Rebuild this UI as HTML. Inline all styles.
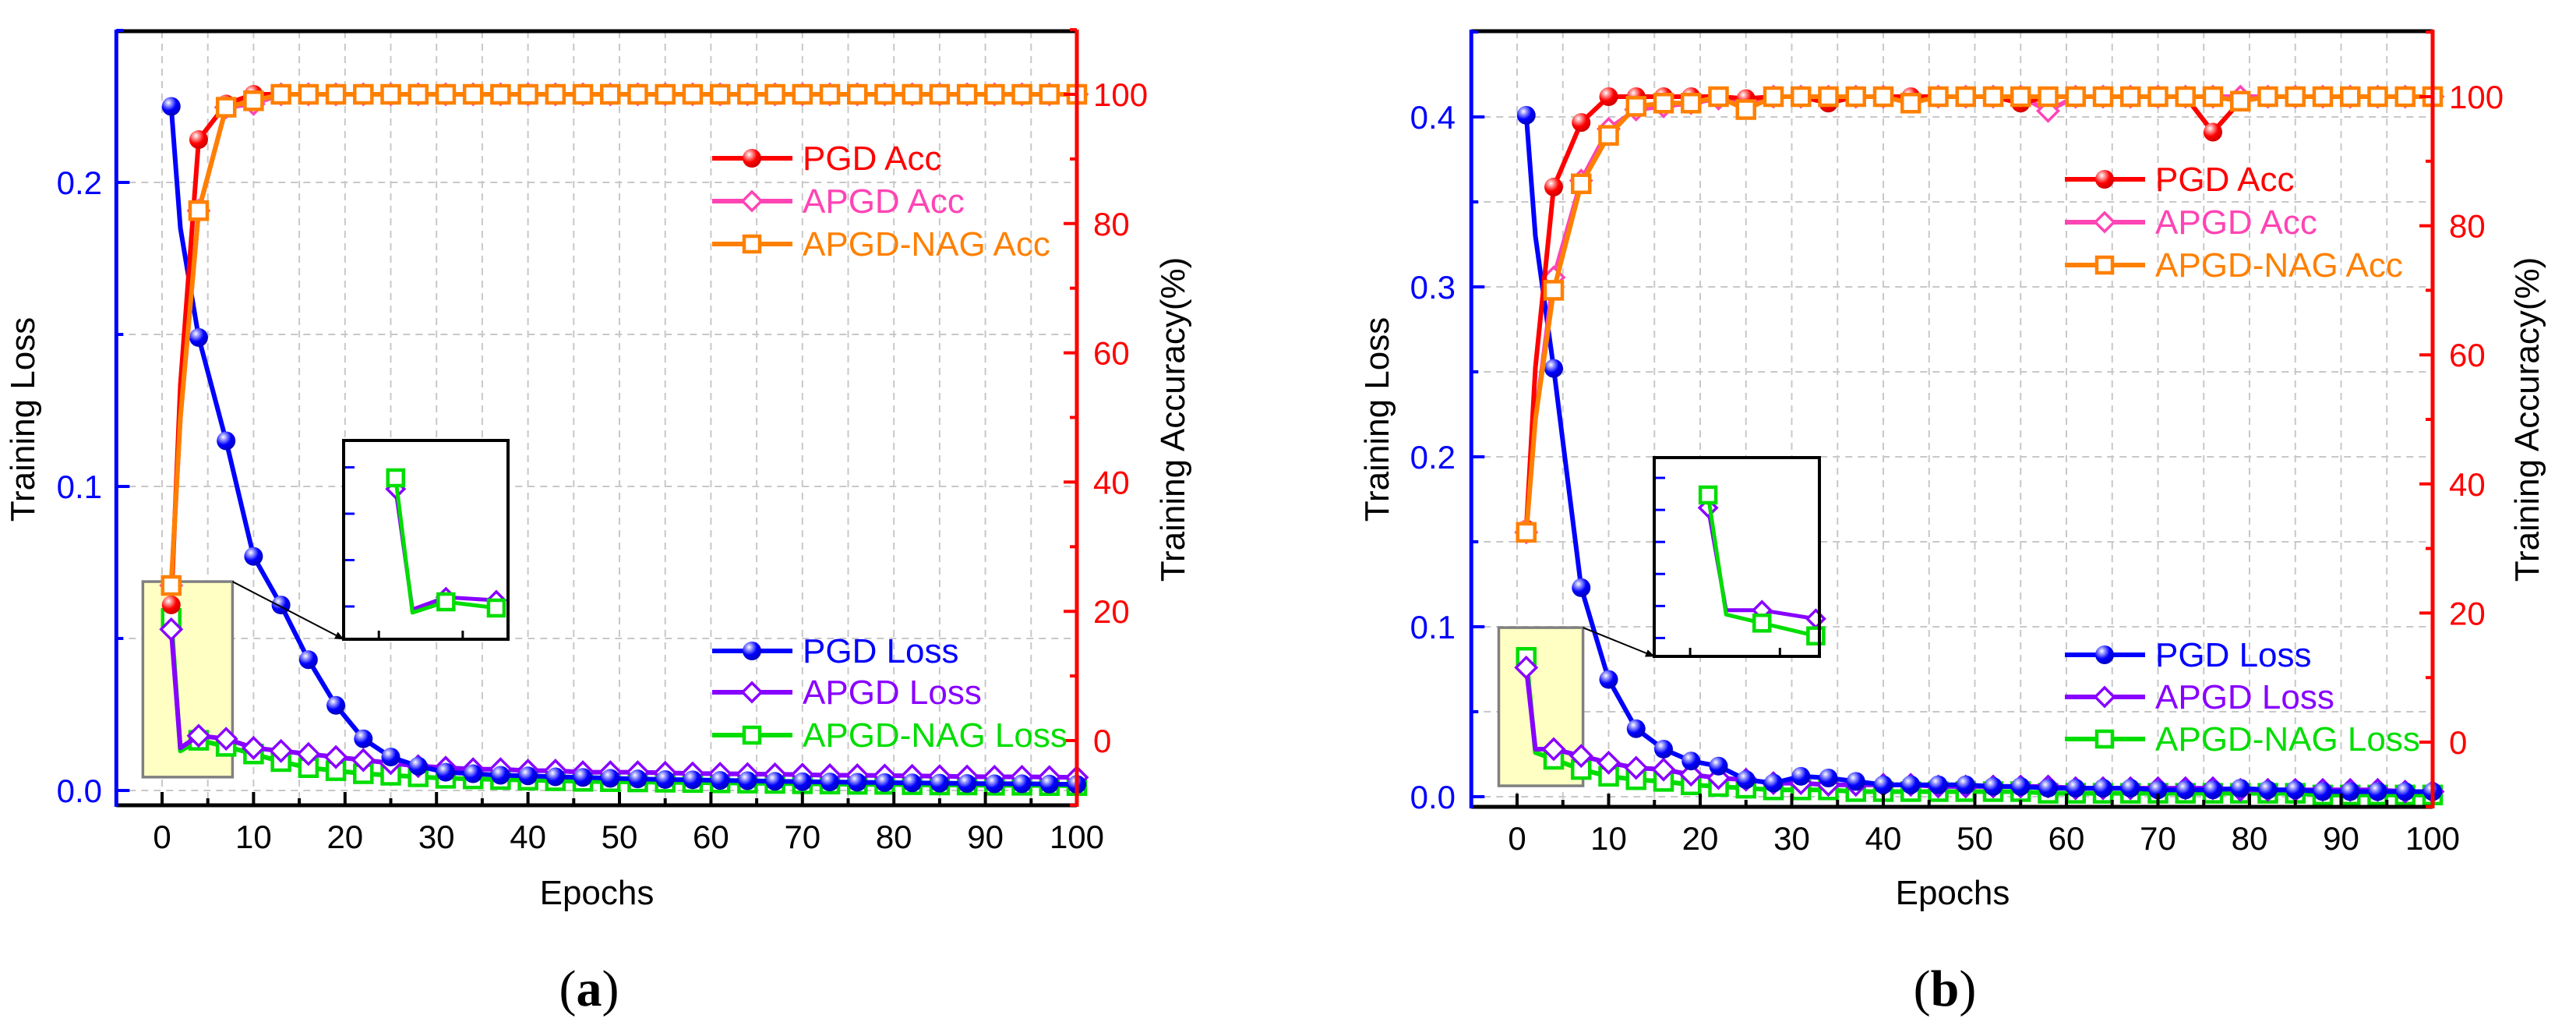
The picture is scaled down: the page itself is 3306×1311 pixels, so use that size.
<!DOCTYPE html>
<html><head><meta charset="utf-8"><title>Training loss and accuracy</title>
<style>
html,body{margin:0;padding:0;background:#fff;}
svg{display:block;font-family:"Liberation Sans",Arial,sans-serif;}
</style></head>
<body>
<svg id="fig" width="3306" height="1311" viewBox="0 0 3306 1311" xmlns="http://www.w3.org/2000/svg">
<defs>
<radialGradient id="gBlue" cx="35%" cy="30%" r="70%"><stop offset="0" stop-color="#ffffff"/><stop offset="0.25" stop-color="#9090ff"/><stop offset="0.6" stop-color="#0000ff"/><stop offset="1" stop-color="#0000c0"/></radialGradient>
<radialGradient id="gRed" cx="35%" cy="30%" r="70%"><stop offset="0" stop-color="#ffffff"/><stop offset="0.25" stop-color="#ff9090"/><stop offset="0.6" stop-color="#ff0000"/><stop offset="1" stop-color="#d00000"/></radialGradient>
<marker id="arrowHead" markerWidth="12" markerHeight="10" refX="11" refY="5" orient="auto" markerUnits="userSpaceOnUse"><path d="M0,0 L12,5 L0,10 z" fill="#000"/></marker>
</defs>
<g id="panelA"></g>
<g id="panelB"></g>
</svg>
<script>
// ---------- data (panel a) ----------
const epochs = [1,2,4,7,10,13,16,19,22,25,28,31,34,37,40,43,46,49,52,55,58,61,64,67,70,73,76,79,82,85,88,91,94,97,100];
const xTicks = [0,10,20,30,40,50,60,70,80,90,100];
const accTicks = [0,20,40,60,80,100];
const lossTicksA = [0.0,0.1,0.2];
const lossTicksB = [0.0,0.1,0.2,0.3,0.4];

const pgdLossA  = [0.225,0.185,0.149,0.115,0.077,0.061,0.043,0.028,0.017,0.011,0.008,0.006,0.0055,0.005,0.0048,0.0045,0.0043,0.004,0.0038,0.0036,0.0035,0.0033,0.0032,0.003,0.0029,0.0028,0.0027,0.0026,0.0025,0.0024,0.0023,0.0022,0.0022,0.0021,0.002];
const apgdLossA = [0.053,0.014,0.018,0.017,0.014,0.013,0.012,0.011,0.010,0.009,0.008,0.0075,0.007,0.007,0.0065,0.0065,0.006,0.006,0.006,0.0058,0.0056,0.0055,0.0054,0.0053,0.0052,0.005,0.005,0.0049,0.0048,0.0047,0.0046,0.0045,0.0045,0.0044,0.0043];
const nagLossA  = [0.0566,0.013,0.0165,0.0145,0.012,0.0095,0.0075,0.0065,0.0055,0.005,0.0045,0.004,0.0038,0.0036,0.0034,0.0032,0.003,0.0029,0.0028,0.0027,0.0026,0.0025,0.0024,0.0023,0.0022,0.0021,0.002,0.002,0.0019,0.0018,0.0018,0.0017,0.0017,0.0016,0.0016];
const pgdAccA   = [21,55,93,98.5,100,100,100,100,100,100,100,100,100,100,100,100,100,100,100,100,100,100,100,100,100,100,100,100,100,100,100,100,100,100,100];
const apgdAccA  = [24,50,82,98,98.5,100,100,100,100,100,100,100,100,100,100,100,100,100,100,100,100,100,100,100,100,100,100,100,100,100,100,100,100,100,100];
const nagAccA   = [24,50,82,98,99,100,100,100,100,100,100,100,100,100,100,100,100,100,100,100,100,100,100,100,100,100,100,100,100,100,100,100,100,100,100];

// ---------- data (panel b) ----------
const pgdLossB  = [0.401,0.33,0.252,0.123,0.069,0.040,0.028,0.021,0.018,0.010,0.008,0.012,0.011,0.009,0.007,0.007,0.007,0.007,0.006,0.006,0.005,0.005,0.005,0.005,0.004,0.004,0.004,0.005,0.004,0.004,0.003,0.003,0.003,0.003,0.003];
const apgdLossB = [0.076,0.028,0.028,0.024,0.020,0.017,0.016,0.013,0.011,0.010,0.008,0.008,0.007,0.007,0.007,0.007,0.006,0.006,0.006,0.006,0.006,0.005,0.005,0.005,0.005,0.005,0.005,0.004,0.004,0.004,0.004,0.004,0.004,0.003,0.003];
const nagLossB  = [0.082,0.026,0.022,0.016,0.012,0.010,0.009,0.007,0.006,0.005,0.004,0.004,0.004,0.003,0.003,0.003,0.003,0.003,0.003,0.003,0.002,0.002,0.002,0.002,0.002,0.002,0.002,0.002,0.002,0.002,0.001,0.001,0.001,0.001,0.001];
const pgdAccB   = [33,58,86,96,100,100,100,100,100,99.7,100,100,99,100,100,100,100,100,100,99,100,100,100,100,100,100,94.5,99.3,100,100,100,100,100,100,100];
const apgdAccB  = [32.5,50,72,87,95,98,98.5,99,99.7,99,100,100,100,100,100,99.5,100,100,100,100,97.8,100,100,100,100,100,100,100,100,100,100,100,100,100,100];
const nagAccB   = [32.5,50,70,86.5,94,98.5,99,99,100,98,100,100,100,100,100,99,100,100,100,100,100,100,100,100,100,100,100,99.3,100,100,100,100,100,100,100];

const NS = "http://www.w3.org/2000/svg";
function mk(parent, tag, attrs){
  const e = document.createElementNS(NS, tag);
  for (const k in attrs) e.setAttribute(k, attrs[k]);
  parent.appendChild(e);
  return e;
}
function linScale(d0,d1,r0,r1){ return v => r0 + (v-d0)/(d1-d0)*(r1-r0); }

function marker(g, type, cx, cy, color, size){
  let el;
  if (type === 'sphere'){
    el = mk(g,'circle',{cx:cx,cy:cy,r:size,fill:color==='blue'?'url(#gBlue)':'url(#gRed)'});
  } else if (type === 'diamond'){
    const s=size;
    el = mk(g,'polygon',{points:`${cx},${cy-s} ${cx+s},${cy} ${cx},${cy+s} ${cx-s},${cy}`,fill:'#fff',stroke:color,'stroke-width':3.5});
  } else {
    const s=size;
    el = mk(g,'rect',{x:cx-s,y:cy-s,width:2*s,height:2*s,fill:'#fff',stroke:color,'stroke-width':4.5});
  }
  return el;
}

function drawPanel(root, cfg){
  const X = linScale(0,100,cfg.x0,cfg.x100);
  const L = linScale(0,1,cfg.ly0,cfg.ly0-cfg.lossPx);
  const A = linScale(0,100,cfg.ay0,cfg.ay100);
  const left = X(-5), right = X(100), top = 40, bottom = cfg.bottom;

  // grid
  const grid = mk(root,'g',{});
  
  
  for (let e=0;e<=95;e+=5){
    mk(grid,'line',{x1:X(e),y1:top,x2:X(e),y2:bottom,stroke:'#c8c8c8','stroke-width':2,'stroke-dasharray':'9,7'});
  }
  for (let v=0; v<=cfg.lossMax+1e-9; v+=0.05){
    mk(grid,'line',{x1:left,y1:L(v),x2:right,y2:L(v),stroke:'#c8c8c8','stroke-width':2,'stroke-dasharray':'9,7'});
  }

  // yellow zoom box
  const zb = cfg.zoomBox;
  const box = mk(root,'rect',{x:X(zb.e0),y:L(zb.l1),width:X(zb.e1)-X(zb.e0),height:L(zb.l0)-L(zb.l1),fill:'#ffffc4',stroke:'#808080','stroke-width':3.5});
  
  

  // series
  function series(name, vals, scale, color, mtype, msize, width){
    const g = mk(root,'g',{});
    
    
    const pts = epochs.map((e,i)=>`${X(e).toFixed(1)},${scale(vals[i]).toFixed(1)}`).join(' ');
    mk(g,'polyline',{points:pts,fill:'none',stroke:color,'stroke-width':width,'stroke-linejoin':'round'});
    epochs.forEach((e,i)=>{
      if ((e-1)%3===0){
        const m = marker(g, mtype, X(e), scale(vals[i]), mtype==='sphere'?(color==='#0000ff'?'blue':'red'):color, msize);
        
        
      }
    });
  }
  series('apgd-nag-loss-line', cfg.nagLoss, L, '#00dd00', 'square', 11, 6);
  series('apgd-loss-line', cfg.apgdLoss, L, '#8800ff', 'diamond', 13, 6);
  series('pgd-loss-line', cfg.pgdLoss, L, '#0000ff', 'sphere', 12, 6);
  series('apgd-acc-line', cfg.apgdAcc, A, '#ff44b4', 'diamond', 13, 6);
  series('pgd-acc-line', cfg.pgdAcc, A, '#ff0000', 'sphere', 12, 6);
  series('apgd-nag-acc-line', cfg.nagAcc, A, '#ff8000', 'square', 11, 6);

  // axes
  const ax = mk(root,'g',{});
  
  
  mk(ax,'line',{x1:left,y1:top,x2:right,y2:top,stroke:'#000','stroke-width':5});
  mk(ax,'line',{x1:left,y1:bottom,x2:right,y2:bottom,stroke:'#000','stroke-width':5});
  mk(ax,'line',{x1:left,y1:top-2,x2:left,y2:bottom+2,stroke:'#0000ff','stroke-width':5});
  mk(ax,'line',{x1:right,y1:top-2,x2:right,y2:bottom+2,stroke:'#ff0000','stroke-width':5});

  // x ticks
  for (let e=0;e<=95;e+=5){
    mk(ax,'line',{x1:X(e),y1:bottom,x2:X(e),y2:bottom-(e%10===0?17:9),stroke:'#000','stroke-width':4});
  }
  xTicks.forEach(t=>{
    const tx = mk(ax,'text',{x:X(t),y:bottom+55,'text-anchor':'middle','font-size':42,fill:'#000'});
    tx.textContent = t;
    
    
  });
  // left ticks
  for (let v=0; v<=cfg.lossMax+1e-9; v+=0.05){
    const major = Math.abs(v*10-Math.round(v*10))<1e-6;
    mk(ax,'line',{x1:left,y1:L(v),x2:left+(major?17:9),y2:L(v),stroke:'#0000ff','stroke-width':4});
  }
  cfg.lossTicks.forEach(t=>{
    const tx = mk(ax,'text',{x:cfg.leftLabelX,y:L(t)+15,'text-anchor':'end','font-size':42,fill:'#0000ff'});
    tx.textContent = t.toFixed(1);
    
    
  });
  // right ticks
  for (let v=-10; v<=110; v+=10){
    mk(ax,'line',{x1:right,y1:A(v),x2:right-(v%20===0?17:9),y2:A(v),stroke:'#ff0000','stroke-width':4});
  }
  accTicks.forEach(t=>{
    const tx = mk(ax,'text',{x:right+21,y:A(t)+15,'text-anchor':'start','font-size':42,fill:'#ff0000'});
    tx.textContent = t;
    
    
  });

  // titles
  const lt = mk(root,'text',{x:0,y:0,transform:`translate(${cfg.leftTitleX},538) rotate(-90)`,'text-anchor':'middle','font-size':44,fill:'#000'});
  lt.textContent = 'Training Loss';
  
  
  const rt = mk(root,'text',{x:0,y:0,transform:`translate(${cfg.rightTitleX},538) rotate(-90)`,'text-anchor':'middle','font-size':44,fill:'#000'});
  rt.textContent = 'Training Accuracy(%)';
  
  
  const xt = mk(root,'text',{x:cfg.epochsX,y:1160,'text-anchor':'middle','font-size':44,fill:'#000'});
  xt.textContent = 'Epochs';
  
  
  const cap = mk(root,'text',{x:cfg.epochsX-10,y:1290,'text-anchor':'middle','font-size':66,fill:'#000','font-family':'"Liberation Serif",serif'});
  cap.innerHTML = '(<tspan font-weight="bold">'+cfg.caption+'</tspan>)';
  
  

  // legend
  const lg = mk(root,'g',{});
  
  
  const entries = [
    ['PGD Acc','#ff0000','sphere',cfg.legY[0]],
    ['APGD Acc','#ff44b4','diamond',cfg.legY[1]],
    ['APGD-NAG Acc','#ff8000','square',cfg.legY[2]],
    ['PGD Loss','#0000ff','sphere',cfg.legY[3]],
    ['APGD Loss','#8800ff','diamond',cfg.legY[4]],
    ['APGD-NAG Loss','#00dd00','square',cfg.legY[5]]
  ];
  entries.forEach(en=>{
    const eg = mk(lg,'g',{});
    
    
    mk(eg,'line',{x1:cfg.legX,y1:en[3],x2:cfg.legX+103,y2:en[3],stroke:en[1],'stroke-width':6});
    marker(eg,en[2],cfg.legX+51,en[3],en[2]==='sphere'?(en[1]==='#0000ff'?'blue':'red'):en[1],en[2]==='square'?10:12);
    const t = mk(eg,'text',{x:cfg.legX+116,y:en[3]+15,'font-size':44,fill:en[1]});
    t.textContent = en[0];
  });

  // inset
  const ins = cfg.inset;
  const ig = mk(root,'g',{});
  
  
  mk(ig,'rect',{x:ins.x,y:ins.y,width:ins.w,height:ins.h,fill:'#fff'});
  const IX = linScale(zb.e0,zb.e1,ins.x,ins.x+ins.w);
  const IY = linScale(zb.l0,zb.l1,ins.y+ins.h,ins.y);
  ins.ticks.forEach(v=>{
    mk(ig,'line',{x1:ins.x,y1:IY(v),x2:ins.x+14,y2:IY(v),stroke:'#0000ff','stroke-width':3});
  });
  [0,5].forEach(e=>{
    mk(ig,'line',{x1:IX(e),y1:ins.y+ins.h,x2:IX(e),y2:ins.y+ins.h-11,stroke:'#000','stroke-width':3});
  });
  const sub = epochs.map((e,i)=>i).filter(i=>epochs[i]<=7);
  [['inset-apgd-loss-line',cfg.apgdLoss,'#8800ff','diamond'],['inset-apgd-nag-loss-line',cfg.nagLoss,'#00dd00','square']].forEach(s=>{
    const sg = mk(ig,'g',{});
    
    
    mk(sg,'polyline',{points:sub.map(i=>`${IX(epochs[i]).toFixed(1)},${IY(s[1][i]).toFixed(1)}`).join(' '),fill:'none',stroke:s[2],'stroke-width':5,'stroke-linejoin':'round'});
    sub.forEach(i=>{ if((epochs[i]-1)%3===0) marker(sg,s[3],IX(epochs[i]),IY(s[1][i]),s[2],s[3]==='square'?10:11); });
  });
  mk(ig,'rect',{x:ins.x,y:ins.y,width:ins.w,height:ins.h,fill:'none',stroke:'#000','stroke-width':4});
  const ar = mk(root,'line',{x1:X(zb.e1),y1:L(zb.l1),x2:ins.x,y2:ins.y+ins.h,stroke:'#000','stroke-width':2,'marker-end':'url(#arrowHead)'});
  
  
}

drawPanel(document.getElementById('panelA'), {
  x0:208, x100:1382, ly0:1014, lossPx:3900, ay0:950, ay100:121, bottom:1033,
  lossMax:0.25, lossTicks:lossTicksA, leftLabelX:131, leftTitleX:44, rightTitleX:1520, epochsX:766, caption:'a',
  legX:914, legY:[203,258,313,835,888,943],
  zoomBox:{e0:-2.1,e1:7.7,l0:0.0044,l1:0.0687},
  inset:{x:441,y:565,w:211,h:255,ticks:[0.015,0.03,0.045,0.06]},
  pgdLoss:pgdLossA, apgdLoss:apgdLossA, nagLoss:nagLossA, pgdAcc:pgdAccA, apgdAcc:apgdAccA, nagAcc:nagAccA
});
drawPanel(document.getElementById('panelB'), {
  x0:1947, x100:3122, ly0:1022, lossPx:2180, ay0:952, ay100:124, bottom:1035,
  lossMax:0.45, lossTicks:lossTicksB, leftLabelX:1868, leftTitleX:1782, rightTitleX:3258, epochsX:2506, caption:'b',
  legX:2650, legY:[230,285,340,840,894,948],
  zoomBox:{e0:-2,e1:7.2,l0:0.0064,l1:0.0995},
  inset:{x:2123,y:587,w:212,h:255,ticks:[0.015,0.03,0.045,0.06,0.075,0.09]},
  pgdLoss:pgdLossB, apgdLoss:apgdLossB, nagLoss:nagLossB, pgdAcc:pgdAccB, apgdAcc:apgdAccB, nagAcc:nagAccB
});
</script>
</body></html>
